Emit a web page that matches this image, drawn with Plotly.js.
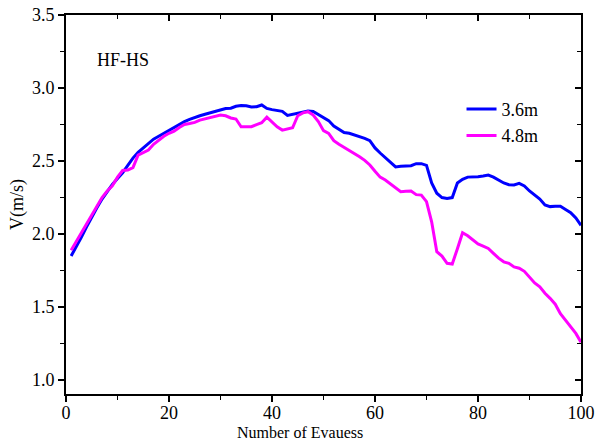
<!DOCTYPE html>
<html>
<head>
<meta charset="utf-8">
<script src="https://cdn.plot.ly/plotly-3.0.1.min.js"></script>
<style>html,body{margin:0;padding:0;background:#fff;}#chart{width:609px;height:443px;}</style>
</head>
<body>
<div id="chart"></div>
<script>
const evacuees = Array.from({length: 100}, (_, i) => i + 1);
const speed36 = [
  1.85, 1.91, 1.98, 2.05, 2.12, 2.18, 2.24, 2.29, 2.34, 2.38,
  2.42, 2.47, 2.52, 2.56, 2.59, 2.62, 2.65, 2.67, 2.69, 2.71,
  2.73, 2.755, 2.77, 2.785, 2.80, 2.81, 2.82, 2.83, 2.84, 2.85,
  2.86, 2.862, 2.875, 2.88, 2.879, 2.87, 2.872, 2.884, 2.86, 2.852,
  2.848, 2.84, 2.812, 2.82, 2.828, 2.838, 2.842, 2.84, 2.82, 2.80,
  2.777, 2.74, 2.715, 2.695, 2.69, 2.68, 2.667, 2.655, 2.64, 2.59,
  2.555, 2.525, 2.49, 2.46, 2.465, 2.466, 2.468, 2.482, 2.482, 2.47,
  2.35, 2.28, 2.25, 2.244, 2.25, 2.35, 2.375, 2.39, 2.39, 2.393,
  2.398, 2.404, 2.39, 2.372, 2.35, 2.338, 2.336, 2.347, 2.33, 2.295,
  2.265, 2.24, 2.20, 2.188, 2.19, 2.19, 2.168, 2.147, 2.11, 2.06
];
const speed48 = [
  1.89, 1.95, 2.01, 2.07, 2.13, 2.19, 2.25, 2.295, 2.33, 2.39,
  2.435, 2.438, 2.455, 2.54, 2.56, 2.575, 2.615, 2.645, 2.67, 2.69,
  2.705, 2.73, 2.75, 2.757, 2.765, 2.78, 2.79, 2.80, 2.81, 2.815,
  2.81, 2.795, 2.788, 2.735, 2.735, 2.735, 2.75, 2.762, 2.80, 2.765,
  2.735, 2.712, 2.72, 2.728, 2.81, 2.83, 2.838, 2.815, 2.77, 2.708,
  2.69, 2.64, 2.615, 2.595, 2.575, 2.55, 2.53, 2.505, 2.473, 2.43,
  2.39, 2.37, 2.345, 2.315, 2.29, 2.293, 2.295, 2.27, 2.267, 2.222,
  2.084, 1.879, 1.849, 1.80, 1.795, 1.90, 2.009, 1.988, 1.96, 1.932,
  1.918, 1.902, 1.868, 1.835, 1.81, 1.80, 1.775, 1.766, 1.745, 1.705,
  1.665, 1.639, 1.595, 1.56, 1.52, 1.455, 1.41, 1.37, 1.32, 1.26
];
const seriesNames = ['3.6m', '4.8m'];
const xTickVals = [0, 20, 40, 60, 80, 100];
const yTickVals = [1.0, 1.5, 2.0, 2.5, 3.0, 3.5];
const xTitle = 'Number of Evauess';
const yTitle = 'V(m/s)';
const panelLabel = 'HF-HS';

const FONT = 'Liberation Serif, Tinos, DejaVu Serif, serif';
const xRange = [0, 100];
const yRange = [0.905, 3.5];

const traces = [
  {x: evacuees, y: speed36, name: seriesNames[0], mode: 'lines', line: {color: '#0000ff', width: 3}},
  {x: evacuees, y: speed48, name: seriesNames[1], mode: 'lines', line: {color: '#ff00ff', width: 3}},
  {x: [], y: [], xaxis: 'x2', yaxis: 'y2', showlegend: false, hoverinfo: 'skip', mode: 'lines'}
];

const axisCommon = {showgrid: false, zeroline: false, showline: true, linecolor: '#000', linewidth: 2,
  tickcolor: '#000', tickwidth: 1.5, tickfont: {family: FONT, size: 18, color: '#000'}};

const layout = {
  width: 609, height: 443,
  margin: {l: 66, r: 28, t: 15, b: 49},
  paper_bgcolor: '#fff', plot_bgcolor: '#fff',
  font: {family: FONT, size: 18, color: '#000'},
  showlegend: true,
  legend: {x: 0.768, y: 0.80, xanchor: 'left', yanchor: 'top', bgcolor: 'rgba(0,0,0,0)',
    font: {family: FONT, size: 18, color: '#000'}, tracegroupgap: 0},
  xaxis: Object.assign({}, axisCommon, {range: xRange, tickvals: xTickVals, ticktext: xTickVals.map(String),
    ticks: 'outside', ticklen: 6, ticklabelstandoff: -5,
    minor: {dtick: 10, tick0: 0, ticks: 'outside', ticklen: 4, tickcolor: '#000', tickwidth: 1.5}}),
  yaxis: Object.assign({}, axisCommon, {range: yRange, tickvals: yTickVals, ticktext: yTickVals.map(v => v.toFixed(1)),
    ticks: 'outside', ticklen: 6, minor: {dtick: 0.25, tick0: 0, ticks: 'outside', ticklen: 4, tickcolor: '#000', tickwidth: 1.5},
    title: {text: yTitle, font: {family: FONT, size: 18, color: '#000'}, standoff: 4}}),
  xaxis2: Object.assign({}, axisCommon, {range: xRange, overlaying: 'x', side: 'top', anchor: 'y2',
    tickvals: xTickVals, ticks: 'inside', ticklen: 6, showticklabels: false,
    minor: {dtick: 10, tick0: 0, ticks: 'inside', ticklen: 4, tickcolor: '#000', tickwidth: 1.5}}),
  yaxis2: Object.assign({}, axisCommon, {range: yRange, overlaying: 'y', side: 'right', anchor: 'x2',
    tickvals: yTickVals, ticks: 'inside', ticklen: 6, showticklabels: false,
    minor: {dtick: 0.25, tick0: 0, ticks: 'inside', ticklen: 4, tickcolor: '#000', tickwidth: 1.5}}),
  annotations: [
    {text: panelLabel, xref: 'paper', yref: 'paper', x: 0.056, y: 0.881, xanchor: 'left', yanchor: 'middle',
      showarrow: false, font: {family: FONT, size: 18, color: '#000'}},
    {text: xTitle, xref: 'paper', yref: 'paper', x: 0.455, y: -0.101, xanchor: 'center', yanchor: 'middle',
      showarrow: false, font: {family: FONT, size: 16, color: '#000'}}
  ]
};

Plotly.newPlot('chart', traces, layout, {displayModeBar: false, staticPlot: true});
</script>
</body>
</html>
